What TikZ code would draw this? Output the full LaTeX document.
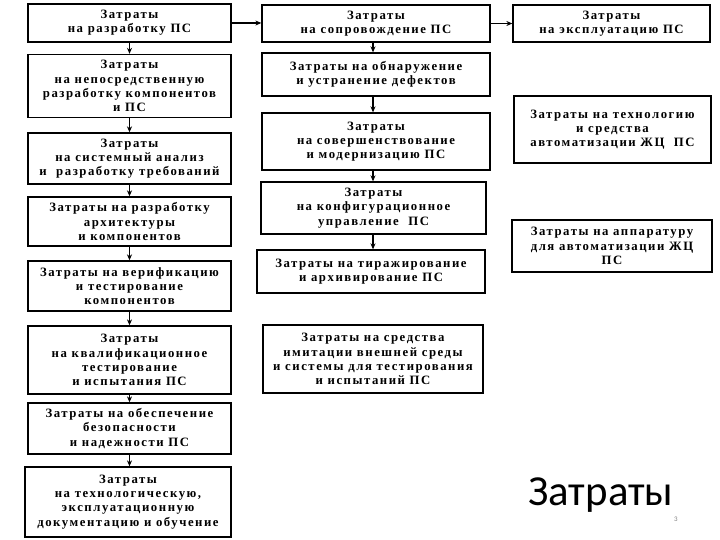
\documentclass[tikz,border=0pt]{standalone}
\usepackage{fontspec}
\setmainfont{Liberation Serif}[LetterSpace=12]
\newfontfamily\bigfont{Carlito}
\usetikzlibrary{arrows.meta}
\begin{document}
\begin{tikzpicture}[x=1bp,y=-1bp,
  box/.style={draw=black,line width=1.3bp,align=center,inner sep=0pt,
    font=\bfseries\fontsize{12.8}{14.3}\selectfont},
  arr/.style={line width=1.1bp,-{Stealth[length=6bp,width=5bp]}}]
\useasboundingbox[fill=white] (0,0) rectangle (720,540);
% left column
\node[box,minimum width=203bp,minimum height=38bp] (L1) at (129.5,23) {Затраты\\на разработку ПС};
\node[box,minimum width=203bp,minimum height=63bp] (L2) at (129.5,86) {Затраты\\на непосредственную\\разработку компонентов\\и ПС};
\node[box,minimum width=203bp,minimum height=51bp] (L3) at (129.5,158.5) {Затраты\\на системный анализ\\и\ \ разработку требований};
\node[box,minimum width=203bp,minimum height=49bp] (L4) at (129.5,221.5) {Затраты на разработку\\архитектуры\\и компонентов};
\node[box,minimum width=203bp,minimum height=50bp] (L5) at (129.5,286) {Затраты на верификацию\\и тестирование\\компонентов};
\node[box,minimum width=203bp,minimum height=68bp] (L6) at (129.5,360) {Затраты\\на квалификационное\\тестирование\\и испытания ПС};
\node[box,minimum width=203bp,minimum height=51bp] (L7) at (129.5,428.5) {Затраты на обеспечение\\безопасности\\и надежности ПС};
\node[box,minimum width=206bp,minimum height=70bp] (L8) at (128,502) {Затраты\\на технологическую,\\эксплуатационную\\документацию и обучение};
% middle column
\node[box,minimum width=228bp,minimum height=37bp] (M1) at (376,23.5) {Затраты\\на сопровождение ПС};
\node[box,minimum width=228bp,minimum height=43bp] (M2) at (376,74.5) {Затраты на обнаружение\\и устранение дефектов};
\node[box,minimum width=228bp,minimum height=57bp] (M3) at (376,141.5) {Затраты\\на совершенствование\\и модернизацию ПС};
\node[box,minimum width=225bp,minimum height=52bp] (M4) at (373.5,208) {Затраты\\на конфигурационное\\управление\ \ ПС};
\node[box,minimum width=228bp,minimum height=43bp] (M5) at (371,271.5) {Затраты на тиражирование\\и архивирование ПС};
\node[box,minimum width=220bp,minimum height=68bp] (M6) at (373,359) {Затраты на средства\\имитации внешней среды\\и системы для тестирования\\и испытаний ПС};
% right column
\node[box,minimum width=197bp,minimum height=37bp] (R1) at (611.5,23.5) {Затраты\\на эксплуатацию ПС};
\node[box,minimum width=197bp,minimum height=67bp] (R2) at (612.5,129.5) {Затраты на технологию\\и средства\\автоматизации ЖЦ\ \ ПС};
\node[box,minimum width=200bp,minimum height=52bp] (R3) at (612,246) {Затраты на аппаратуру\\для автоматизации ЖЦ\\ПС};
% horizontal arrows
\draw[arr] (L1.east) -- (L1.east -| M1.west);
\draw[arr] (M1.east) -- (M1.east -| R1.west);
% left vertical arrows
\foreach \a/\b in {L1/L2,L2/L3,L3/L4,L4/L5,L5/L6,L6/L7,L7/L8}
  \draw[arr] (\a.south) -- (\a.south |- \b.north);
% middle vertical arrows
\foreach \a/\b in {M1/M2,M2/M3,M3/M4,M4/M5}
  \draw[arr] ([xshift=-3bp]M1.south |- \a.south) -- ([xshift=-3bp]M1.south |- \b.north);
% title
\node[anchor=base west,inner sep=0pt,font=\bigfont\fontsize{43}{47}\selectfont] (T) at (528,505) {Затраты};
\node[inner sep=0pt,text=gray,font=\bigfont\fontsize{7}{8}\selectfont] (N) at (676,519) {3};
\end{tikzpicture}
\end{document}
